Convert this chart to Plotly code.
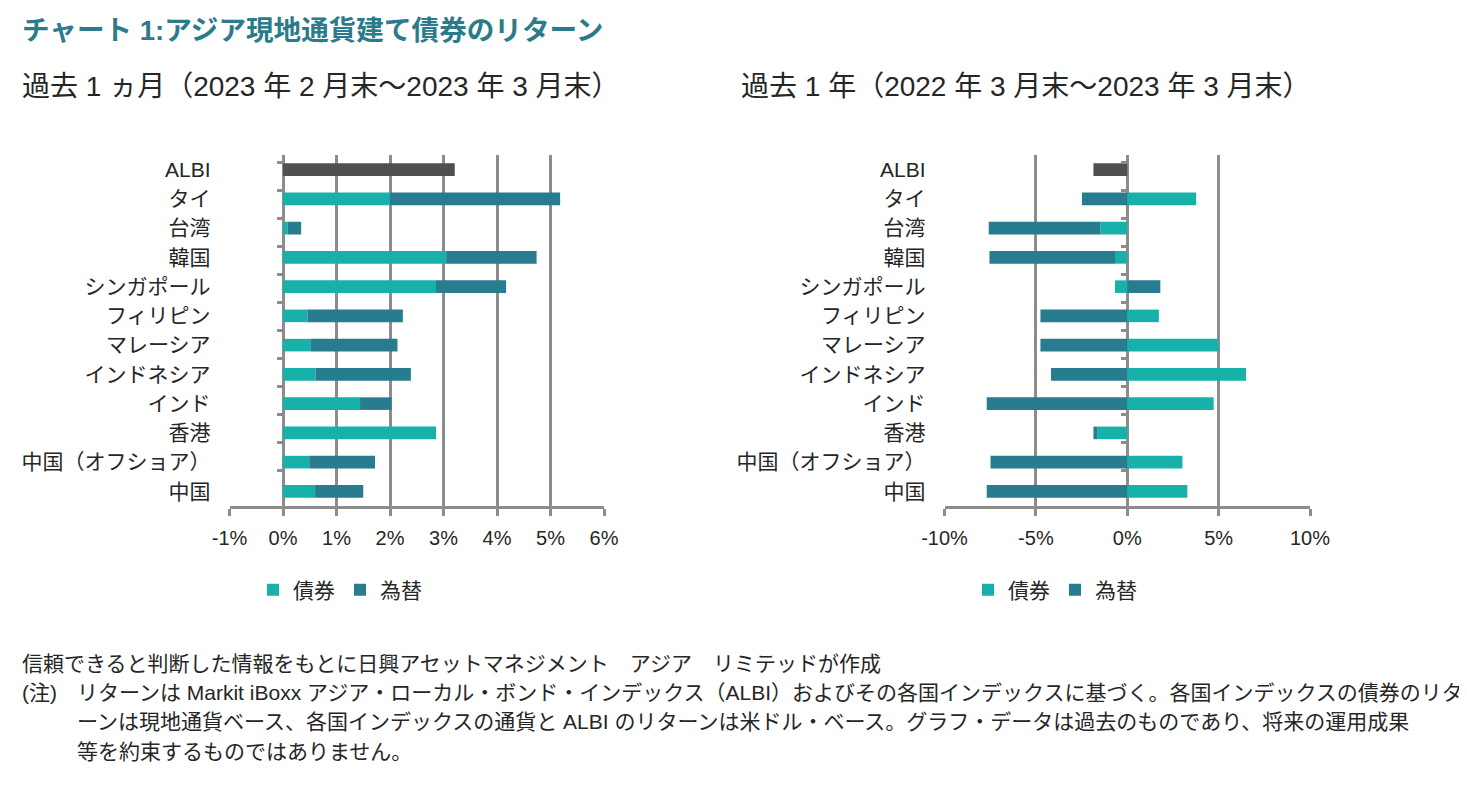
import plotly.graph_objects as go

# ---------------- data ----------------
categories = ["ALBI", "タイ", "台湾", "韓国", "シンガポール", "フィリピン", "マレーシア",
              "インドネシア", "インド", "香港", "中国（オフショア）", "中国"]

# past 1 month (end Feb 2023 - end Mar 2023), %
m1_albi = [3.21, None, None, None, None, None, None, None, None, None, None, None]
m1_bond = [None, 2.00, 0.09, 3.05, 2.86, 0.46, 0.51, 0.61, 1.44, 2.86, 0.49, 0.60]
m1_fx = [None, 3.18, 0.25, 1.69, 1.31, 1.78, 1.63, 1.78, 0.59, 0.00, 1.23, 0.90]

# past 1 year (end Mar 2022 - end Mar 2023), %
y1_albi = [-1.85, None, None, None, None, None, None, None, None, None, None, None]
y1_bond = [None, 3.77, -1.48, -0.67, -0.67, 1.73, 5.00, 6.50, 4.73, -1.65, 3.02, 3.29]
y1_fx = [None, -2.48, -6.10, -6.87, 1.81, -4.75, -4.75, -4.17, -7.69, -0.20, -7.48, -7.69]

left_ticks = [-1, 0, 1, 2, 3, 4, 5, 6]
left_ticktext = ["-1%", "0%", "1%", "2%", "3%", "4%", "5%", "6%"]
right_ticks = [-10, -5, 0, 5, 10]
right_ticktext = ["-10%", "-5%", "0%", "5%", "10%"]

title_text = "チャート 1:アジア現地通貨建て債券のリターン"
sub_left = "過去 1 ヵ月（2023 年 2 月末～2023 年 3 月末）"
sub_right = "過去 1 年（2022 年 3 月末～2023 年 3 月末）"
note_head = "(注)"
note_lines = [
    "信頼できると判断した情報をもとに日興アセットマネジメント　アジア　リミテッドが作成",
    "リターンは Markit iBoxx アジア・ローカル・ボンド・インデックス（ALBI）およびその各国インデックスに基づく。各国インデックスの債券のリタ",
    "ーンは現地通貨ベース、各国インデックスの通貨と ALBI のリターンは米ドル・ベース。グラフ・データは過去のものであり、将来の運用成果",
    "等を約束するものではありません。",
]

# ---------------- style ----------------
W, H = 1467, 790
OFF = 8  # page body margin
BOND = "#18B1AA"
FX = "#277C8F"
ALBI_C = "#505050"
GRID = "#8C8C8C"
TXT = "#262626"
FONT = "Liberation Sans, Noto Sans CJK JP, sans-serif"


def px_x(v):
    return (v - OFF) / W


def px_y(v):
    return 1 - (v - OFF) / H


x1_dom = [px_x(229.5), px_x(604)]
x2_dom = [px_x(944.5), px_x(1310)]
y_dom = [px_y(506), px_y(155)]
x1_range = [-1, 6]
x2_range = [-10, 10]


def zero_pos(dom, rng):
    return dom[0] + (dom[1] - dom[0]) * (0 - rng[0]) / (rng[1] - rng[0])


fig = go.Figure()

# left chart
fig.add_trace(go.Bar(y=categories, x=m1_bond, orientation="h", name="債券",
                     marker=dict(color=BOND, line=dict(width=0)),
                     xaxis="x", yaxis="y", legend="legend"))
fig.add_trace(go.Bar(y=categories, x=m1_fx, orientation="h", name="為替",
                     marker=dict(color=FX, line=dict(width=0)),
                     xaxis="x", yaxis="y", legend="legend"))
fig.add_trace(go.Bar(y=categories, x=m1_albi, orientation="h", name="ALBI",
                     marker=dict(color=ALBI_C, line=dict(width=0)),
                     xaxis="x", yaxis="y", showlegend=False))
# right chart
fig.add_trace(go.Bar(y=categories, x=y1_bond, orientation="h", name="債券",
                     marker=dict(color=BOND, line=dict(width=0)),
                     xaxis="x2", yaxis="y2", legend="legend2"))
fig.add_trace(go.Bar(y=categories, x=y1_fx, orientation="h", name="為替",
                     marker=dict(color=FX, line=dict(width=0)),
                     xaxis="x2", yaxis="y2", legend="legend2"))
fig.add_trace(go.Bar(y=categories, x=y1_albi, orientation="h", name="ALBI",
                     marker=dict(color=ALBI_C, line=dict(width=0)),
                     xaxis="x2", yaxis="y2", showlegend=False))

# invisible helpers carrying the small category tick marks at the 0% line
fig.add_trace(go.Scatter(y=categories, x=[0] * len(categories), mode="markers",
                         marker=dict(opacity=0), xaxis="x", yaxis="y3",
                         showlegend=False, hoverinfo="skip"))
fig.add_trace(go.Scatter(y=categories, x=[0] * len(categories), mode="markers",
                         marker=dict(opacity=0), xaxis="x2", yaxis="y4",
                         showlegend=False, hoverinfo="skip"))

xaxis_common = dict(showgrid=True, gridcolor=GRID, gridwidth=2.5, zeroline=False,
                    showline=True, linecolor=GRID, linewidth=2.5,
                    ticks="outside", ticklen=7, tickwidth=2.5, tickcolor=GRID,
                    tickfont=dict(size=20, color=TXT, family=FONT),
                    ticklabelstandoff=5, fixedrange=True, automargin=False)
yaxis_common = dict(type="category", categoryorder="array", categoryarray=categories,
                    autorange="reversed", showgrid=False, zeroline=False, showline=False,
                    ticks="", tickfont=dict(size=21, color=TXT, family=FONT),
                    ticklabelstandoff=18, domain=y_dom, automargin=False,
                    fixedrange=True)
ytick_common = dict(type="category", categoryorder="array", categoryarray=categories,
                    autorange="reversed", showgrid=False, zeroline=False, showline=False,
                    showticklabels=False, ticks="outside", tickson="boundaries",
                    ticklen=6, tickwidth=2.5, tickcolor=GRID, anchor="free", side="left",
                    domain=y_dom, automargin=False, fixedrange=True)

fig.update_layout(
    width=W, height=H,
    margin=dict(l=0, r=0, t=0, b=0, autoexpand=False),
    paper_bgcolor="white", plot_bgcolor="rgba(0,0,0,0)",
    barmode="relative", bargap=0.57,
    font=dict(family=FONT, color=TXT),
    xaxis=dict(domain=x1_dom, range=x1_range, tickvals=left_ticks,
               ticktext=left_ticktext, anchor="y", **xaxis_common),
    xaxis2=dict(domain=x2_dom, range=x2_range, tickvals=right_ticks,
                ticktext=right_ticktext, anchor="y2", **xaxis_common),
    yaxis=dict(anchor="x", **yaxis_common),
    yaxis2=dict(anchor="x2", **yaxis_common),
    yaxis3=dict(overlaying="y", position=zero_pos(x1_dom, x1_range), **ytick_common),
    yaxis4=dict(overlaying="y2", position=zero_pos(x2_dom, x2_range), **ytick_common),
    legend=dict(orientation="h", x=px_x(340), y=px_y(590), xanchor="center",
                yanchor="middle", font=dict(size=21, color=TXT, family=FONT),
                itemwidth=30, bgcolor="rgba(0,0,0,0)"),
    legend2=dict(orientation="h", x=px_x(1055), y=px_y(590), xanchor="center",
                 yanchor="middle", font=dict(size=21, color=TXT, family=FONT),
                 itemwidth=30, bgcolor="rgba(0,0,0,0)"),
    showlegend=True,
)

ann = []
ann.append(dict(text="<b>" + title_text + "</b>", x=px_x(20), y=px_y(30),
                xref="paper", yref="paper", xanchor="left", yanchor="middle",
                showarrow=False, font=dict(size=27.6, color="#2B7B8A", family=FONT)))
ann.append(dict(text=sub_left, x=px_x(20), y=px_y(87), xref="paper", yref="paper",
                xanchor="left", yanchor="middle", showarrow=False,
                font=dict(size=28, color=TXT, family=FONT)))
ann.append(dict(text=sub_right, x=px_x(739), y=px_y(87), xref="paper", yref="paper",
                xanchor="left", yanchor="middle", showarrow=False,
                font=dict(size=28, color=TXT, family=FONT)))
note_y = [663, 692, 721, 751]
note_x = [20, 75, 75, 75]
for t, yy, xx in zip(note_lines, note_y, note_x):
    ann.append(dict(text=t, x=px_x(xx), y=px_y(yy), xref="paper", yref="paper",
                    xanchor="left", yanchor="middle", showarrow=False,
                    font=dict(size=21, color=TXT, family=FONT)))
ann.append(dict(text=note_head, x=px_x(20), y=px_y(note_y[1]), xref="paper", yref="paper",
                xanchor="left", yanchor="middle", showarrow=False,
                font=dict(size=21, color=TXT, family=FONT)))
fig.update_layout(annotations=ann)

fig.write_html("out.html")
